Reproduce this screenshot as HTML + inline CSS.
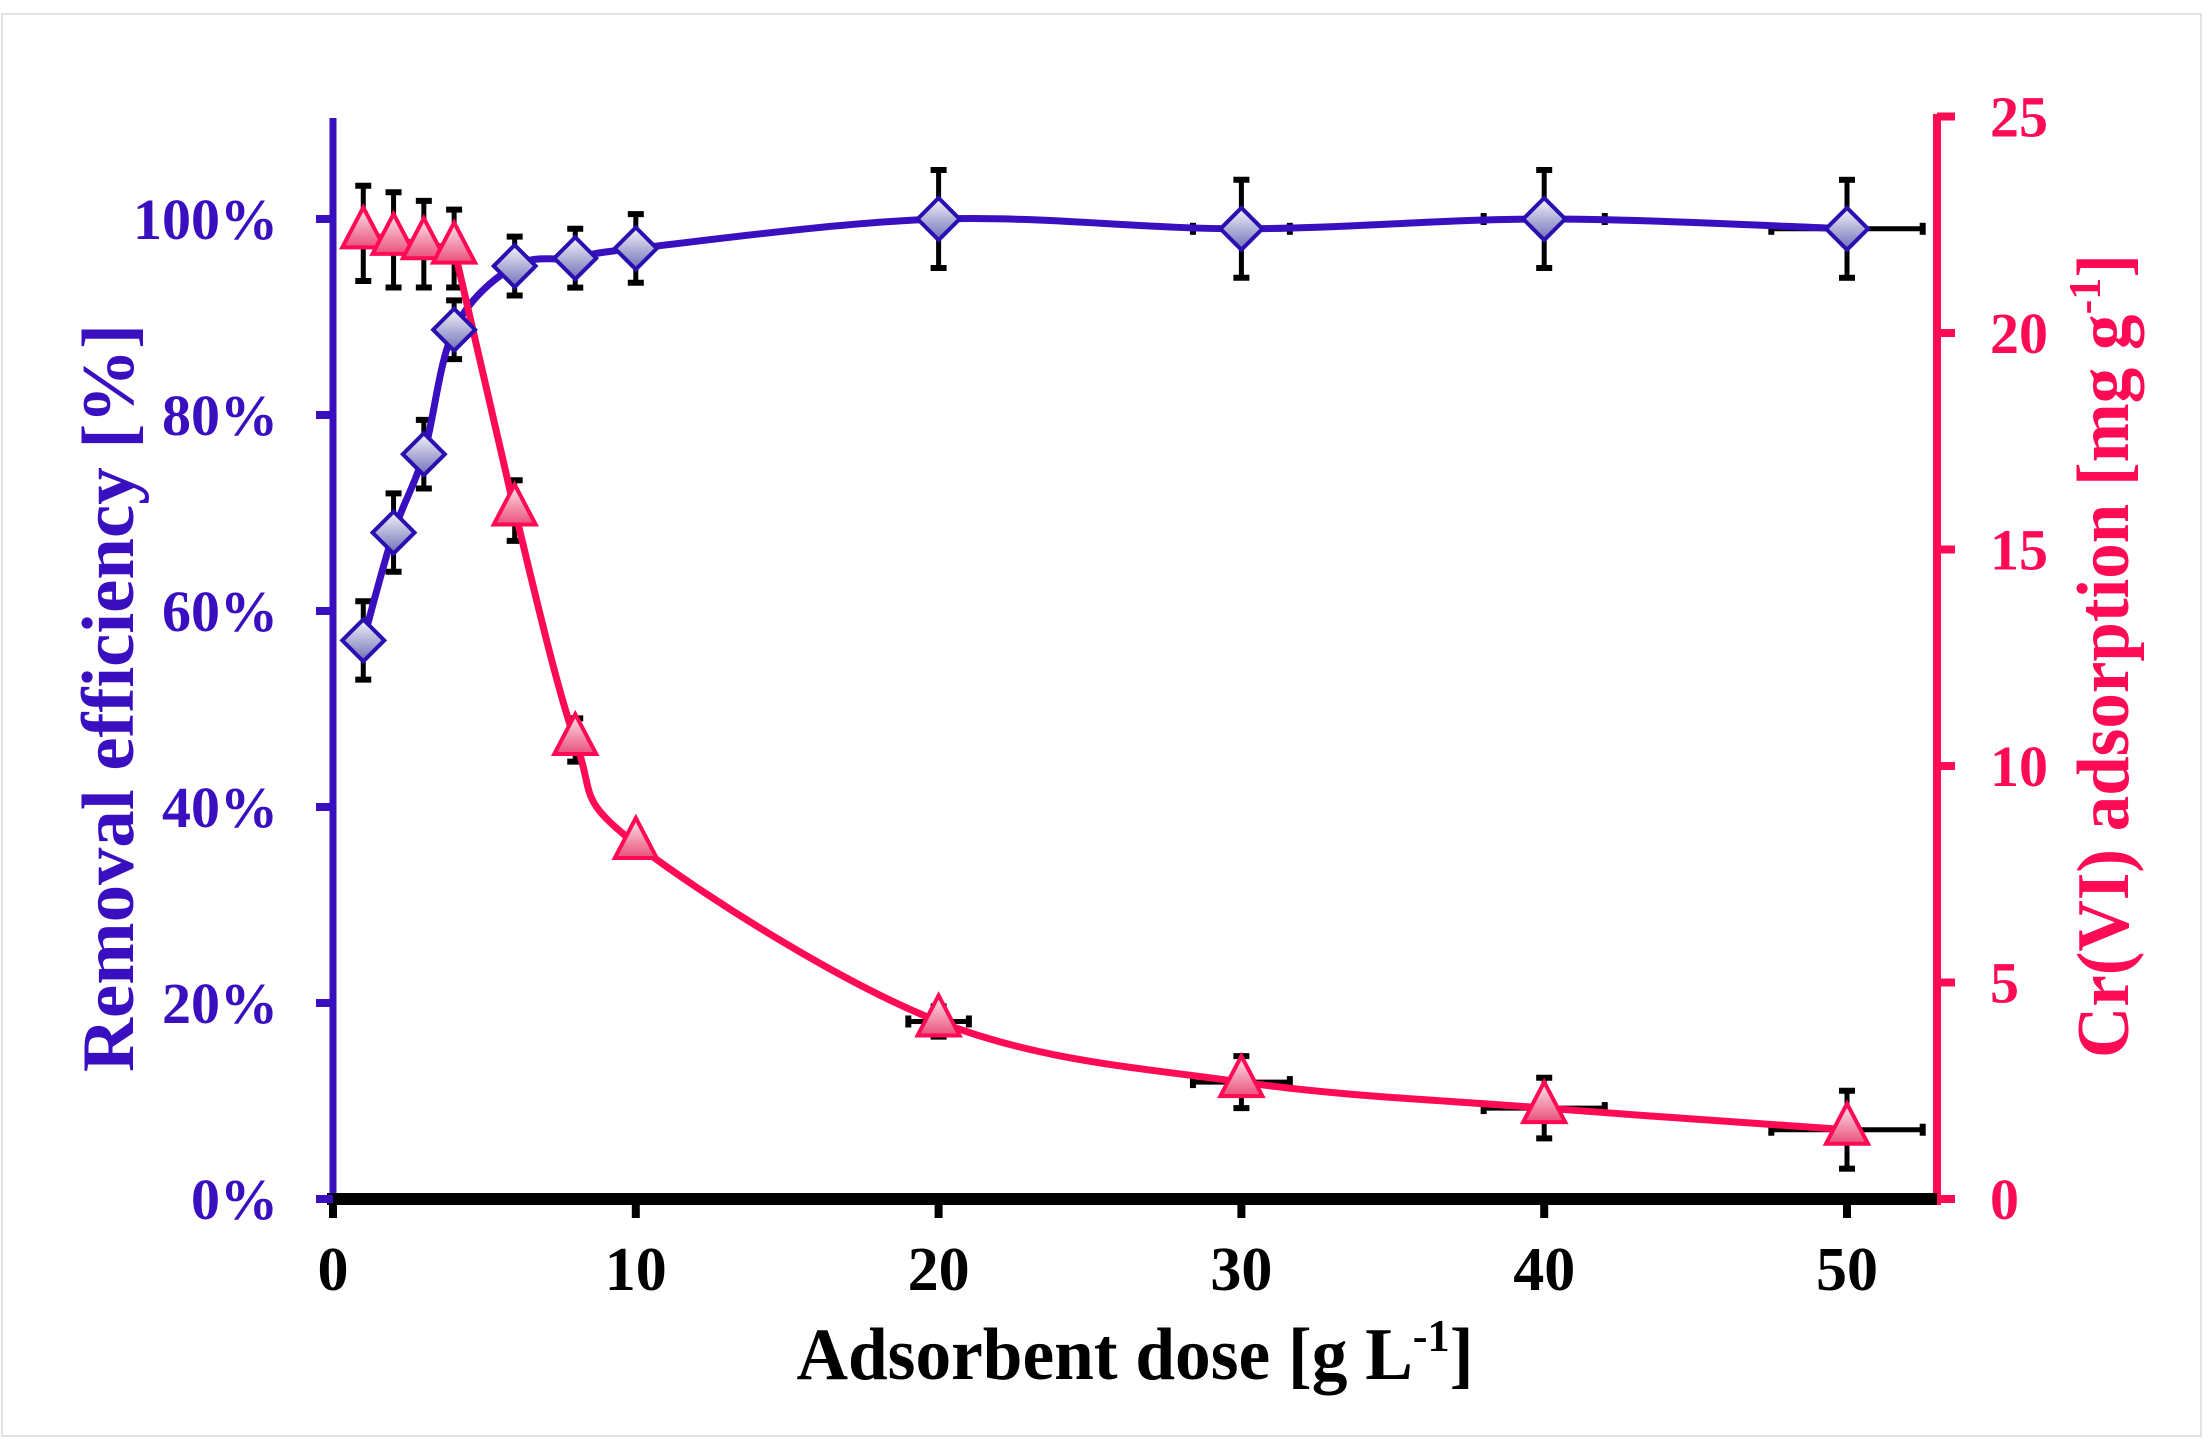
<!DOCTYPE html>
<html><head><meta charset="utf-8"><style>
html,body{margin:0;padding:0;background:#fff;}
svg{display:block;font-family:"Liberation Serif",serif;font-weight:bold;}
</style></head><body>
<svg id="s" width="2211" height="1451" viewBox="0 0 2211 1451" xmlns="http://www.w3.org/2000/svg">
<defs>
<linearGradient id="gd" x1="0" y1="0" x2="0" y2="1"><stop offset="0" stop-color="#f4f4fa"/><stop offset="1" stop-color="#6f6fb8"/></linearGradient>
<linearGradient id="gt" x1="0" y1="0" x2="0" y2="1"><stop offset="0" stop-color="#fde8ee"/><stop offset="1" stop-color="#ea4f7a"/></linearGradient>
</defs>
<rect x="0" y="0" width="2211" height="1451" fill="#fff"/>
<rect x="2" y="14" width="2199" height="1422" fill="none" stroke="#e2e2e2" stroke-width="2"/>
<g id="g"></g>
<line x1="333" y1="118" x2="333" y2="1203" stroke="#3a0fc0" stroke-width="7"/>
<line x1="1937" y1="114" x2="1937" y2="1205" stroke="#ff0a55" stroke-width="8"/>
<line x1="327" y1="1199" x2="1937" y2="1199" stroke="#000" stroke-width="12"/>
<g id="ax"></g>
<text x="1135" y="1379" font-size="74" text-anchor="middle" fill="#000" textLength="677" lengthAdjust="spacingAndGlyphs">Adsorbent dose [g L<tspan font-size="46" dy="-28">-1</tspan><tspan dy="28">]</tspan></text>
<text transform="translate(133,698) rotate(-90)" font-size="74" text-anchor="middle" fill="#3a0fc0" textLength="748" lengthAdjust="spacingAndGlyphs">Removal efficiency [%]</text>
<text transform="translate(2128,656) rotate(-90)" font-size="74" text-anchor="middle" fill="#ff0a55" textLength="804" lengthAdjust="spacingAndGlyphs">Cr(VI) adsorption [mg g<tspan font-size="46" dy="-28">-1</tspan><tspan dy="28">]</tspan></text>
</svg>
<script>
var NS="http://www.w3.org/2000/svg";
function X(v){return 333+v*30.28;}
function YL(p){return 1199-p*9.8;}
function YR(v){return 1199-v*43.3;}
function el(t,a,p){var e=document.createElementNS(NS,t);for(var k in a)e.setAttribute(k,a[k]);(p||document.getElementById('g')).appendChild(e);return e;}
var ax=document.getElementById('ax');
[0,10,20,30,40,50].forEach(function(v){el('line',{x1:X(v),y1:1199,x2:X(v),y2:1218,stroke:'#000','stroke-width':8},ax);
 var t=el('text',{x:X(v),y:1290,'font-size':62,'text-anchor':'middle',fill:'#000'},ax);t.textContent=v;});
[0,20,40,60,80,100].forEach(function(p){var y=YL(p);el('line',{x1:316,y1:y,x2:333,y2:y,stroke:'#3a0fc0','stroke-width':8},ax);
 var t=el('text',{x:278,y:y+20,'font-size':58,'text-anchor':'end',fill:'#3a0fc0'},ax);t.textContent=p+'%';});
[0,5,10,15,20,25].forEach(function(v){var y=YR(v);el('line',{x1:1937,y1:y,x2:1955,y2:y,stroke:'#ff0a55','stroke-width':8},ax);
 var t=el('text',{x:1990,y:y+20,'font-size':58,'text-anchor':'start',fill:'#ff0a55'},ax);t.textContent=v;});
var xs=[1,2,3,4,6,8,10,20,30,40,50];
var B=[57,68,76,88.7,95.2,96,97,100,99,100,99];
var Be=[4,4,3.5,3,3,3,3.5,5,5,5,5];
var R=[22.3,22.15,22.05,21.95,15.9,10.6,8.2,4.1,2.7,2.1,1.6];
var Re=[1.1,1.1,1.0,0.9,0.7,0.5,0.2,0.35,0.6,0.7,0.9];
function cat(pts){var d='M'+pts[0][0]+','+pts[0][1];for(var i=0;i<pts.length-1;i++){var p0=pts[Math.max(0,i-1)],p1=pts[i],p2=pts[i+1],p3=pts[Math.min(pts.length-1,i+2)];
 var c1=[p1[0]+(p2[0]-p0[0])/6,p1[1]+(p2[1]-p0[1])/6],c2=[p2[0]-(p3[0]-p1[0])/6,p2[1]-(p3[1]-p1[1])/6];d+=' C'+c1+' '+c2+' '+p2;}return d;}
function vbar(x,y1,y2){el('line',{x1:x,y1:y1,x2:x,y2:y2,stroke:'#000','stroke-width':5});el('line',{x1:x-8,y1:y1,x2:x+8,y2:y1,stroke:'#000','stroke-width':6});el('line',{x1:x-8,y1:y2,x2:x+8,y2:y2,stroke:'#000','stroke-width':6});}
function hbar(x1,x2,y){el('line',{x1:x1,y1:y,x2:x2,y2:y,stroke:'#000','stroke-width':5});el('line',{x1:x1,y1:y-6,x2:x1,y2:y+6,stroke:'#000','stroke-width':6});el('line',{x1:x2,y1:y-6,x2:x2,y2:y+6,stroke:'#000','stroke-width':6});}
[[30,99,1.6],[40,100,2],[50,99,2.5]].forEach(function(a){hbar(X(a[0]-a[2]),X(a[0]+a[2]),YL(a[1]));});
[[20,4.1,1],[30,2.7,1.6],[40,2.1,2],[50,1.6,2.5]].forEach(function(a){hbar(X(a[0]-a[2]),X(a[0]+a[2]),YR(a[1]));});
xs.forEach(function(x,i){vbar(X(x),YL(B[i]+Be[i]),YL(B[i]-Be[i]));vbar(X(x),YR(R[i]+Re[i]),YR(R[i]-Re[i]));});
el('path',{d:cat(xs.map(function(x,i){return [X(x),YL(B[i])];})),fill:'none',stroke:'#3a0fc0','stroke-width':7,'stroke-linejoin':'round'});
var rp=xs.map(function(x,i){return [X(x),YR(R[i])];});
el('path',{d:cat(rp.slice(0,4))+' L'+rp[4]+' '+cat(rp.slice(4)).replace(/^M[^ C]+/,''),fill:'none',stroke:'#ff0a55','stroke-width':7,'stroke-linejoin':'round'});
xs.forEach(function(x,i){var cx=X(x),cy=YL(B[i]);el('polygon',{points:(cx-21)+','+cy+' '+cx+','+(cy-21)+' '+(cx+21)+','+cy+' '+cx+','+(cy+21),fill:'url(#gd)',stroke:'#2a10b0','stroke-width':4});});
xs.forEach(function(x,i){var cx=X(x),cy=YR(R[i]);el('polygon',{points:(cx-21)+','+(cy+14)+' '+cx+','+(cy-26)+' '+(cx+21)+','+(cy+14),fill:'url(#gt)',stroke:'#ff0a55','stroke-width':4});});
</script>
</body></html>
